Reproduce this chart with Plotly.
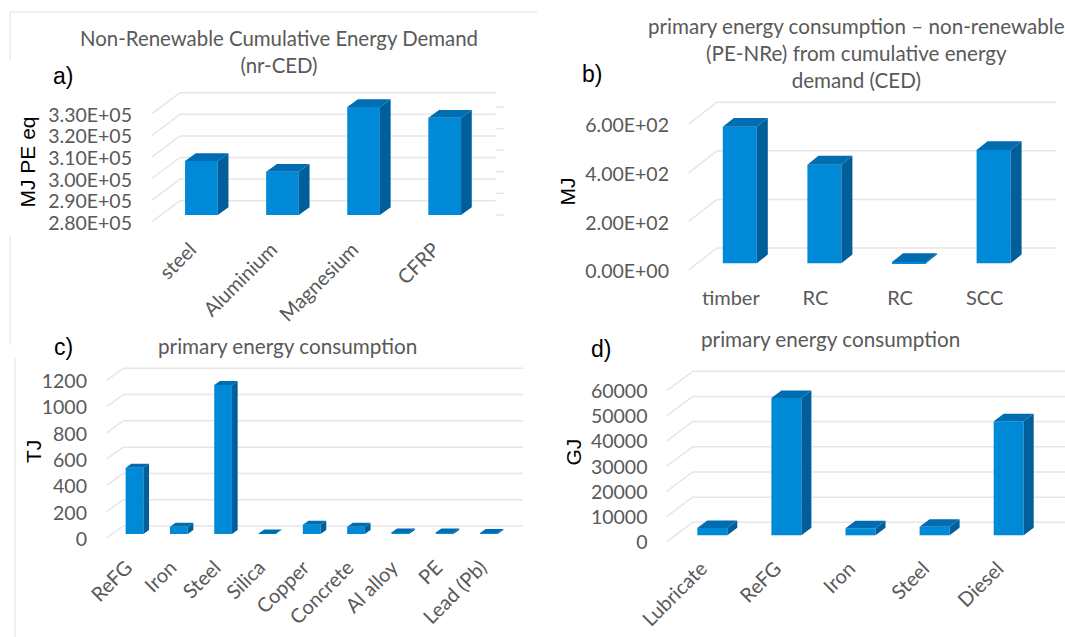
import plotly.graph_objects as go

# ---------- data ----------
cats_a = ["steel", "Aluminium", "Magnesium", "CFRP"]
vals_a = [305000, 300000, 330000, 325000]
ticks_a = [280000, 290000, 300000, 310000, 320000, 330000]
labels_a = ["2.80E+05", "2.90E+05", "3.00E+05", "3.10E+05", "3.20E+05", "3.30E+05"]

cats_b = ["timber", "RC", "RC", "SCC"]
vals_b = [562, 406, 5, 466]
ticks_b = [0, 200, 400, 600]
labels_b = ["0.00E+00", "2.00E+02", "4.00E+02", "6.00E+02"]

cats_c = ["ReFG", "Iron", "Steel", "Silica", "Copper", "Concrete", "Al alloy", "PE", "Lead (Pb)"]
vals_c = [505, 55, 1134, 3, 71, 56, 11, 12, 7]
ticks_c = [0, 200, 400, 600, 800, 1000, 1200]

cats_d = ["Lubricate", "ReFG", "Iron", "Steel", "Diesel"]
vals_d = [2900, 54550, 2800, 3400, 45300]
ticks_d = [0, 10000, 20000, 30000, 40000, 50000, 60000]

# ---------- styling / geometry (pixels of the 1065x637 page) ----------
W, H = 1065, 637
FRONT, SIDE, TOP = "#0089D6", "#005E9A", "#006DB2"
GRID, TEXT = "#E6E6E6", "#595959"
SANS = "Lato"
HEAD = "Liberation Sans"


def fx(px):
    return px / W


def fy(py):
    return 1 - py / H


panels = [
    dict(cats=cats_a, vals=vals_a, ticks=ticks_a, labels=labels_a, base=280000,
         box=(133, 510, 85, 232), c0=201.4, sp=81.1, bw=32.7, base_px=215, unit=21.6 / 10000,
         bar_d=(10.7, 7.8), wall_d=(28, 21), wall_left=180, wall_right=495.8, shift=6.7,
         angle=-45, xstand=1, xshift=-11, right_ticks=True),
    dict(cats=cats_b, vals=vals_b, ticks=ticks_b, labels=labels_b, base=0,
         box=(670, 1062, 95, 282), c0=739.8, sp=84.6, bw=34, base_px=263.3, unit=48.6 / 200,
         bar_d=(11, 8.8), wall_d=(28.3, 22), wall_left=717, wall_right=1056, shift=6.7,
         angle=0, xstand=2, xshift=-9, right_ticks=False),
    dict(cats=cats_c, vals=vals_c, ticks=ticks_c, labels=[str(t) for t in ticks_c], base=0,
         box=(88, 530, 360, 545), c0=134.5, sp=44.3, bw=17.7, base_px=534, unit=157.7 / 1200,
         bar_d=(5.7, 4), wall_d=(16.7, 12), wall_left=123.3, wall_right=522.9, shift=4,
         angle=-45, xstand=6, xshift=-8, right_ticks=False),
    dict(cats=cats_d, vals=vals_d, ticks=ticks_d, labels=[str(t) for t in ticks_d], base=0,
         box=(648.5, 1065, 365, 548), c0=712.3, sp=74.1, bw=30, base_px=535.3, unit=25.17 / 10000,
         bar_d=(10, 7.5), wall_d=(26, 19.4), wall_left=692.7, wall_right=1065, shift=6.4,
         angle=-45, xstand=4, xshift=-11, right_ticks=False),
]

fig = go.Figure()
shapes = []
layout = {}

for i, p in enumerate(panels, start=1):
    xa = "x" if i == 1 else f"x{i}"
    ya = "y" if i == 1 else f"y{i}"
    xkey = "xaxis" if i == 1 else f"xaxis{i}"
    ykey = "yaxis" if i == 1 else f"yaxis{i}"
    L, R, T, B = p["box"]

    to_x = lambda px, p=p: (px - p["c0"]) / p["sp"]
    to_y = lambda px, p=p: p["base"] + (p["base_px"] - px) / p["unit"]
    ddx, ddy = p["bar_d"][0] / p["sp"], p["bar_d"][1] / p["unit"]
    wdx, wdy = p["wall_d"][0] / p["sp"], p["wall_d"][1] / p["unit"]
    half = p["bw"] / p["sp"] / 2

    xs = list(range(len(p["cats"])))
    # front faces
    fig.add_trace(go.Bar(x=xs, y=[v - p["base"] for v in p["vals"]], base=p["base"],
                         width=p["bw"] / p["sp"], marker=dict(color=FRONT, line=dict(width=0)),
                         xaxis=xa, yaxis=ya, hoverinfo="skip", showlegend=False))
    # side and top faces
    sx, sy, tx, ty = [], [], [], []
    for x, v in zip(xs, p["vals"]):
        l, r = x - half, x + half
        sx += [r, r + ddx, r + ddx, r, r, None]
        sy += [p["base"], p["base"] + ddy, v + ddy, v, p["base"], None]
        tx += [l, r, r + ddx, l + ddx, l, None]
        ty += [v, v, v + ddy, v + ddy, v, None]
    for face_x, face_y, col in ((sx, sy, SIDE), (tx, ty, TOP)):
        fig.add_trace(go.Scatter(x=face_x, y=face_y, mode="lines", fill="toself", fillcolor=col,
                                 line=dict(width=0, color=col), xaxis=xa, yaxis=ya,
                                 hoverinfo="skip", showlegend=False))
    # walls: slanted floor line + back gridline for each tick
    x_back = to_x(p["wall_right"])
    x_back_left = to_x(p["wall_left"])
    front_x = x_back_left - wdx
    for t in p["ticks"]:
        yf = t - p["shift"] / p["unit"]
        yb = yf + wdy
        for (x0, y0, x1, y1) in ((front_x, yf, x_back_left, yb), (x_back_left, yb, x_back, yb)):
            shapes.append(dict(type="line", xref=xa, yref=ya, x0=x0, y0=y0, x1=x1, y1=y1,
                               layer="below", line=dict(color=GRID, width=1.5)))
        if p["right_ticks"]:
            shapes.append(dict(type="line", xref=xa, yref=ya, x0=x_back, x1=to_x(p["wall_right"] + 8),
                               y0=t, y1=t, layer="below", line=dict(color=GRID, width=1.5)))

    layout[xkey] = dict(domain=[fx(L), fx(R)], range=[to_x(L), to_x(R)], anchor=ya, automargin=False,
                        tickmode="array", tickvals=xs, ticktext=p["cats"], tickangle=p["angle"],
                        ticklabelstandoff=p["xstand"], ticklabelshift=p["xshift"],
                        showgrid=False, zeroline=False, showline=False, ticks="",
                        tickfont=dict(family=SANS, size=20, color=TEXT))
    layout[ykey] = dict(domain=[fy(B), fy(T)], range=[to_y(B), to_y(T)], anchor=xa, automargin=False,
                        tickmode="array", tickvals=p["ticks"], ticktext=p["labels"],
                        ticklabelshift=round(p["shift"]) + 1,
                        showgrid=False, zeroline=False, showline=False, ticks="",
                        tickfont=dict(family=SANS, size=19.5, color=TEXT))

# chart-frame remnants of the source picture
for (x0, y0, x1, y1) in ((10, 12, 537, 12), (10, 12, 10, 61), (10, 235, 10, 345), (15, 357, 15, 637)):
    shapes.append(dict(type="line", xref="paper", yref="paper", x0=fx(x0), x1=fx(x1),
                       y0=fy(y0), y1=fy(y1), line=dict(color="#E2E2E2", width=1)))


def note(text, x, y, size, color, family, angle=0):
    return dict(text=text, x=fx(x), y=fy(y), xref="paper", yref="paper", showarrow=False,
                xanchor="center", yanchor="middle", textangle=angle, align="center",
                font=dict(family=family, size=size, color=color))


annotations = [
    note("Non-Renewable Cumulative Energy Demand<br>(nr-CED)", 279, 51.5, 20.4, TEXT, SANS),
    note("primary energy consumption \u2013 non-renewable<br>(PE-NRe) from cumulative energy<br>demand (CED)",
         856, 52.5, 20.6, TEXT, SANS),
    note("primary energy consumption", 288, 346, 20.7, TEXT, SANS),
    note("primary energy consumption", 830, 339, 20.7, TEXT, SANS),
    note("a)", 62.5, 76, 23, "#000000", HEAD),
    note("b)", 592, 74, 23, "#000000", HEAD),
    note("c)", 63, 347, 23, "#000000", HEAD),
    note("d)", 601, 349, 23, "#000000", HEAD),
    note("MJ PE eq", 26.5, 162, 21, "#000000", HEAD, -90),
    note("MJ", 567.5, 192, 21, "#000000", HEAD, -90),
    note("TJ", 33, 452, 21, "#000000", HEAD, -90),
    note("GJ", 572.5, 452, 21, "#000000", HEAD, -90),
]

fig.update_layout(width=W, height=H, margin=dict(l=0, r=0, t=0, b=0), autosize=False,
                  paper_bgcolor="white", plot_bgcolor="white", showlegend=False,
                  barmode="overlay", shapes=shapes, annotations=annotations, **layout)
fig.write_html("out.html", config=dict(displayModeBar=False),
               post_script="document.body.style.margin='0';")
